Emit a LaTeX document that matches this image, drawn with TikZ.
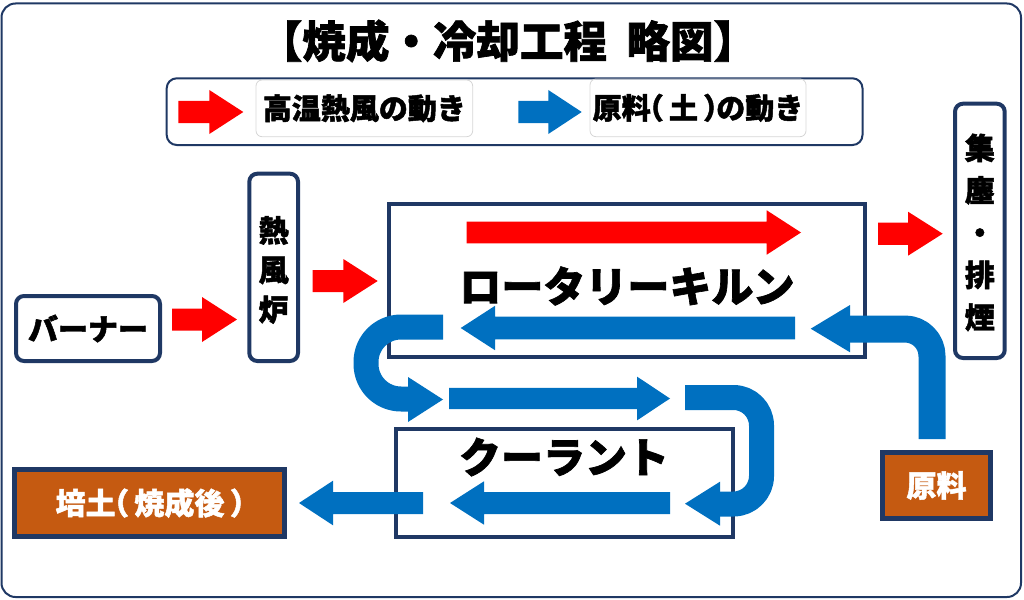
\documentclass[tikz,border=0pt]{standalone}
\usepackage{fontspec}
\newfontfamily\jp{Noto Sans CJK JP}[BoldFeatures={FakeBold=1.6}]
\definecolor{navy}{HTML}{1F3864}
\definecolor{arrred}{HTML}{FF0000}
\definecolor{arrblue}{HTML}{0070C0}
\definecolor{soilbrown}{HTML}{C55A11}
\definecolor{lightframe}{HTML}{D6D6D6}
% #1 style, #2 tail x, #3 tip x, #4 centre y, #5 half body, #6 half head, #7 signed head length
\newcommand\blockarrow[7]{%
  \fill[#1] ({#2},{#4-#5}) -- ({#3-(#7)},{#4-#5}) -- ({#3-(#7)},{#4-#6}) -- ({#3},{#4})
    -- ({#3-(#7)},{#4+#6}) -- ({#3-(#7)},{#4+#5}) -- ({#2},{#4+#5}) -- cycle;}
\newcommand\lpar{\makebox[0.45em][r]{（}\hspace{0.18em}}
\newcommand\rpar{\hspace{0.18em}\makebox[0.45em][l]{）}}
\begin{document}
\begin{tikzpicture}[x=1pt,y=-1pt,
  frame/.style={draw=navy,line width=2pt,rounded corners=14pt},
  legendbox/.style={draw=navy,line width=2pt,rounded corners=10pt,inner sep=0pt},
  legtext/.style={draw=lightframe,line width=0.8pt,rounded corners=6pt,inner sep=0pt,
     font=\jp\bfseries\fontsize{29}{34}\selectfont},
  plainbox/.style={draw=navy,line width=4pt,inner sep=0pt},
  roundbox/.style={plainbox,rounded corners=8pt},
  soilbox/.style={draw=navy,line width=5pt,fill=soilbrown,inner sep=0pt,text=white,
     font=\jp\bfseries\fontsize{30}{36}\selectfont},
  lbl/.style={inner sep=0pt,font=\jp\bfseries\fontsize{30}{36}\selectfont},
  big/.style={inner sep=0pt,font=\jp\bfseries\fontsize{42}{50}\selectfont},
  redarrow/.style={fill=arrred},
  bluearrow/.style={fill=arrblue},
  ubend/.style={draw=arrblue,line width=25pt,line cap=butt,line join=round}]
\useasboundingbox (0,0) rectangle (1024,599);
\draw[frame] (1.5,3.5) rectangle (1021,597);

% title
\node[inner sep=0pt,font=\jp\bfseries\fontsize{43.5}{50}\selectfont] (title) at (508,41)
  {【焼成・冷却工程\hspace{0.45em}略図】};

% legend
\node[legendbox,minimum width=695.8pt,minimum height=66.7pt] (legend) at (514.6,111.65) {};
\node[legtext,minimum width=216.7pt,minimum height=56.7pt] (leghot) at (364.35,108.35) {高温熱風の動き};
\node[legtext,minimum width=216pt,minimum height=57.7pt] (legsoil) at (698,107.85)
  {原料\lpar 土\rpar の動き};
\blockarrow{redarrow}{178.3}{243.3}{112}{11}{22}{34}
\blockarrow{bluearrow}{518.3}{581.7}{112}{11}{22}{33.4}

% boxes
\node[roundbox,minimum width=144pt,minimum height=65pt,lbl] (burner) at (88,328.5)
  {\raisebox{-2pt}{バーナー}};
\node[roundbox,minimum width=48.7pt,minimum height=187.3pt] (furnace) at (273.65,267.35) {};
\node[lbl,align=center,font=\jp\bfseries\fontsize{30}{39.5}\selectfont] (furnacetext) at (273.65,270)
  {熱\\風\\炉};
\node[plainbox,minimum width=475.7pt,minimum height=153.3pt] (kiln) at (626.85,280.35) {};
\node[big] (kilntext) at (627,286) {ロータリーキルン};
\node[plainbox,minimum width=337.5pt,minimum height=107.8pt] (cooler) at (564.25,482.6) {};
\node[big] (coolertext) at (564,457) {クーラント};
\node[roundbox,minimum width=49.7pt,minimum height=254.3pt] (dust) at (979.85,230.85) {};
\node[lbl,align=center,font=\jp\bfseries\fontsize{30}{42.3}\selectfont] (dusttext) at (979.85,232.5)
  {集\\塵\\・\\排\\煙};
\node[soilbox,minimum width=108pt,minimum height=66pt] (raw) at (936.5,485.5)
  {\raisebox{-2pt}{原料}};
\node[soilbox,minimum width=270pt,minimum height=67pt] (soil) at (149.5,503)
  {\raisebox{-3pt}{培土\lpar 焼成後\rpar}};

% red (hot air) arrows
\blockarrow{redarrow}{172}{237}{319.5}{11}{22.5}{35}
\blockarrow{redarrow}{312.7}{377.7}{281}{11}{22}{34.4}
\blockarrow{redarrow}{466.7}{801}{232.5}{10.8}{22.2}{34.3}
\blockarrow{redarrow}{878}{942.7}{233.7}{11.1}{22}{34.7}

% blue (material) arrows
\blockarrow{bluearrow}{795}{460.7}{328}{11.3}{22.2}{-34.3}
\blockarrow{bluearrow}{449}{670}{398.5}{10.7}{21.9}{33}
\blockarrow{bluearrow}{670}{450}{503}{11}{21.7}{-34}
\blockarrow{bluearrow}{423}{299}{503}{11}{22.3}{-34}

% U-turn kiln -> cooler
\draw[ubend,rounded corners=35pt] (443,327) -- (366,327) -- (366,399) -- (409,399);
\fill[bluearrow] (408,377) -- (443,399.5) -- (408,422) -- cycle;
% U-turn cooler top -> cooler bottom
\draw[ubend,rounded corners=28pt] (685,397.5) -- (761.5,397.5) -- (761.5,504) -- (719,504);
\fill[bluearrow] (720,481.7) -- (685,503.7) -- (720,525.7) -- cycle;
% raw material -> kiln
\draw[ubend,line width=27pt,rounded corners=27pt] (932,439) -- (932,329) -- (849,329);
\fill[bluearrow] (850,305) -- (810.7,328.7) -- (850,352.3) -- cycle;
\end{tikzpicture}
\end{document}
